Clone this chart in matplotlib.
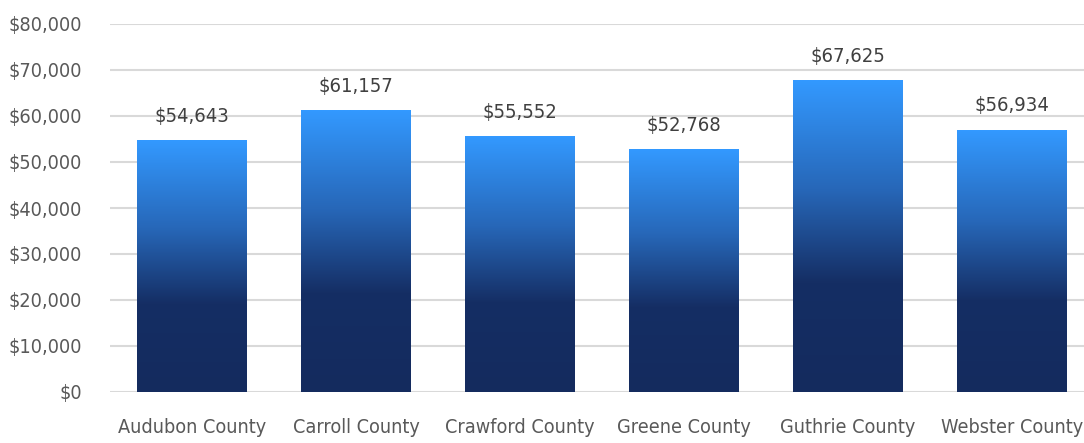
import numpy as np
import matplotlib.pyplot as plt
from matplotlib.colors import LinearSegmentedColormap
from matplotlib.ticker import FuncFormatter

plt.rcParams['font.family'] = ['DejaVu Sans']
plt.rcParams['font.stretch'] = 'condensed'

counties = ["Audubon County", "Carroll County", "Crawford County",
            "Greene County", "Guthrie County", "Webster County"]
income = [54643, 61157, 55552, 52768, 67625, 56934]

text_color = "#595959"
grid_color = "#d9d9d9"
cmap = LinearSegmentedColormap.from_list(
    "bar", [(0.0, "#142b5e"), (0.35, "#152e64"), (0.65, "#2767b8"), (1.0, "#3399ff")])

W, H = 1084, 443
fig = plt.figure(figsize=(W / 100, H / 100), dpi=100)
ax = fig.add_axes([110 / W, 1 - 392 / H, 984 / W, (392 - 24) / H])

ax.set_xlim(-0.5, len(counties) - 0.5)
ax.set_ylim(0, 80000)
ax.set_yticks(np.arange(0, 80001, 10000))
ax.yaxis.set_major_formatter(FuncFormatter(lambda v, p: f"${v:,.0f}"))
ax.grid(axis="y", color=grid_color, linewidth=1.5, zorder=0)
ax.set_axisbelow(True)
for s in ax.spines.values():
    s.set_visible(False)

width = 0.67
grad = np.linspace(0, 1, 256).reshape(-1, 1)
bars = ax.bar(range(len(counties)), income, width=width, color="none", zorder=2)
for b, v in zip(bars, income):
    x0 = b.get_x()
    ax.imshow(grad, cmap=cmap, origin="lower", aspect="auto",
              extent=(x0, x0 + width, 0, v), zorder=2)
    ax.text(b.get_x() + width / 2, v + 3200, f"${v:,}", ha="center", va="bottom",
            fontsize=14.5, color="#404040")

ax.set_xlim(-0.5, len(counties) - 0.5)
ax.set_ylim(0, 80000)
ax.set_xticks(range(len(counties)))
ax.set_xticklabels(counties)
ax.tick_params(axis="both", length=0, labelsize=14.2, labelcolor=text_color)
ax.tick_params(axis="x", pad=19)
ax.tick_params(axis="y", pad=20)

fig.savefig("out.png", dpi=100)
